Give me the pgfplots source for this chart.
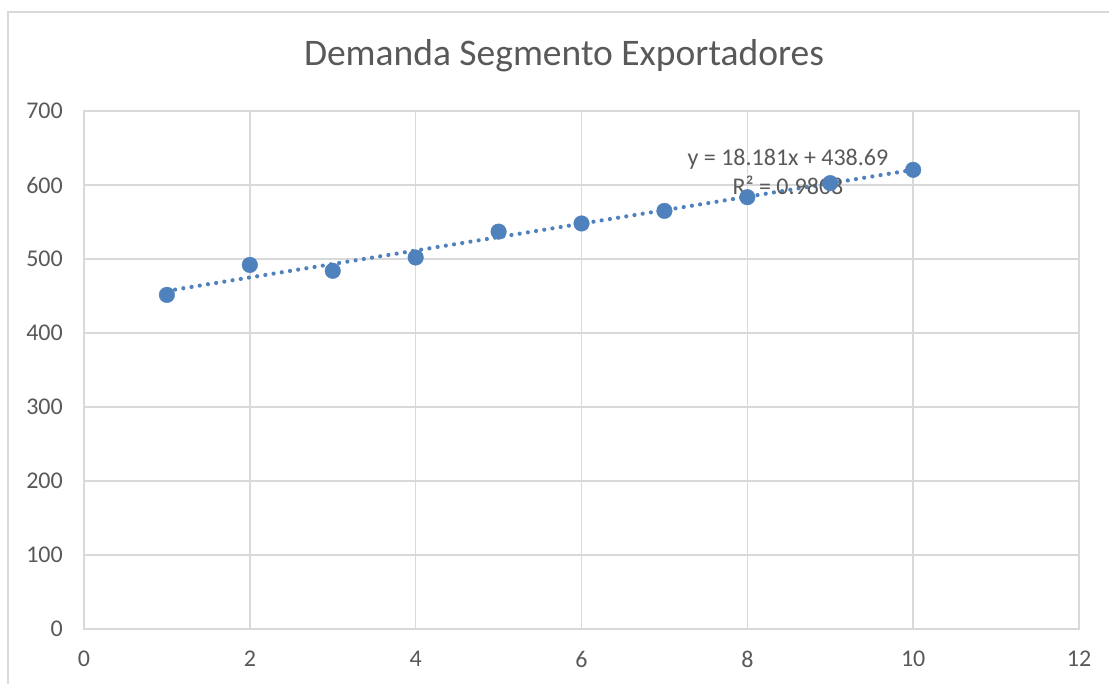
\documentclass[border=0pt]{standalone}
\usepackage{fontspec}
\setmainfont{Carlito}
\usepackage{pgfplots}
\pgfplotsset{compat=1.18}
\definecolor{ptc}{HTML}{4F81BD}
\definecolor{gridc}{HTML}{D9D9D9}
\definecolor{txt}{HTML}{595959}
\begin{document}
\begin{tikzpicture}[x=1pt,y=1pt]
\useasboundingbox (0,0) rectangle (1109,684);
\clip (0,0) rectangle (1109,684);
\fill[white] (0,0) rectangle (1109,684);
\draw[gridc, line width=1.5pt] (8,672) rectangle (1140,-30);
\node[text=txt, font=\fontsize{37.5}{45}\selectfont] at (564,628) {Demanda Segmento Exportadores};
\begin{axis}[
  at={(84pt,55pt)}, anchor=south west,
  scale only axis, width=995pt, height=518pt,
  xmin=0, xmax=12, ymin=0, ymax=700,
  xtick={0,2,...,12}, ytick={0,100,...,700},
  grid=major,
  major grid style={gridc, line width=1.4pt},
  axis line style={gridc, line width=1.4pt},
  tick style={draw=none},
  /pgf/number format/assume math mode=true,
  ticklabel style={font=\fontsize{24}{28}\selectfont, text=txt, inner sep=0pt},
  yticklabel style={anchor=east, xshift=-21pt},
  xticklabel style={anchor=north, yshift=-22pt},
  clip=false,
]
\addplot[ptc, line width=4.2pt, line cap=round, dash pattern=on 0.01pt off 8.3pt]
  coordinates {(1,456.871) (10,620.5)};
\addplot[only marks, mark=*, mark size=7.8pt, mark options={fill=ptc, draw=ptc}]
  coordinates {
  (1,451.5) (2,492) (3,484) (4,502) (5,537)
  (6,548) (7,565) (8,583.5) (9,602.5) (10,620.5)
  };
\node[text=txt, font=\fontsize{24}{29}\selectfont, align=center] at (axis cs:8.49,618) {y = 18.181x + 438.69\\R² = 0.9808};
\end{axis}
\end{tikzpicture}
\end{document}
